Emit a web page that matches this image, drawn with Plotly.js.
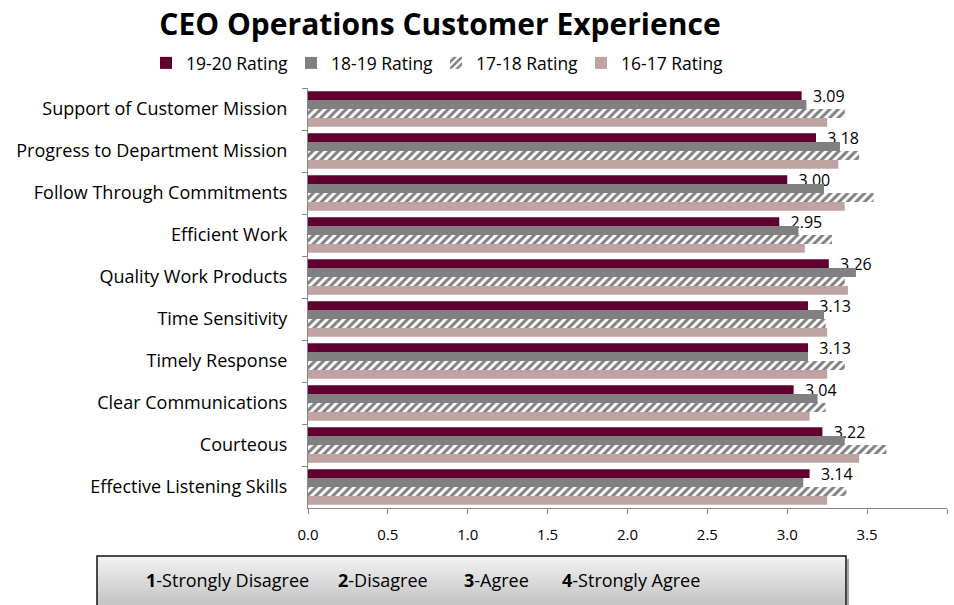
<!DOCTYPE html>
<html>
<head>
<meta charset="utf-8">
<script src="https://cdn.plot.ly/plotly-3.0.1.min.js"></script>
<style>html,body{margin:0;padding:0;background:#fff;}#chart{width:954px;height:605px;}</style>
</head>
<body>
<div id="chart"></div>
<script>
const categories = [
  "Support of Customer Mission",
  "Progress to Department Mission",
  "Follow Through Commitments",
  "Efficient Work",
  "Quality Work Products",
  "Time Sensitivity",
  "Timely Response",
  "Clear Communications",
  "Courteous",
  "Effective Listening Skills"
];
const rating1920 = [3.09, 3.18, 3.00, 2.95, 3.26, 3.13, 3.13, 3.04, 3.22, 3.14];
const rating1819 = [3.12, 3.33, 3.23, 3.07, 3.43, 3.23, 3.13, 3.19, 3.36, 3.10];
const rating1718 = [3.36, 3.45, 3.54, 3.28, 3.36, 3.24, 3.36, 3.24, 3.62, 3.37];
const rating1617 = [3.25, 3.32, 3.36, 3.11, 3.38, 3.25, 3.25, 3.14, 3.45, 3.25];
const seriesNames = ["19-20 Rating", "18-19 Rating", "17-18 Rating", "16-17 Rating"];
const xTickVals = [0, 0.5, 1, 1.5, 2, 2.5, 3, 3.5, 4];
const xTickText = ["0.0", "0.5", "1.0", "1.5", "2.0", "2.5", "3.0", "3.5", ""];
const scaleNumbers = ["1", "2", "3", "4"];
const scaleLabels = ["Strongly Disagree", "Disagree", "Agree", "Strongly Agree"];

const FONT = "Open Sans, Liberation Sans, Arial, sans-serif";

const traces = [
  {type:"bar", orientation:"h", name:seriesNames[0], y:categories, x:rating1920,
   marker:{color:"#600030"},
   text:rating1920.map(v=>"  "+v.toFixed(2)), textposition:"outside", cliponaxis:false, constraintext:"none",
   textfont:{family:FONT, size:16, color:"#000"}},
  {type:"bar", orientation:"h", name:seriesNames[1], y:categories, x:rating1819,
   marker:{color:"#808080"}},
  {type:"bar", orientation:"h", name:seriesNames[2], y:categories, x:rating1718,
   marker:{color:"#ffffff", pattern:{shape:"/", fgcolor:"#7f7f7f", bgcolor:"#ffffff", size:6, solidity:0.5}}},
  {type:"bar", orientation:"h", name:seriesNames[3], y:categories, x:rating1617,
   marker:{color:"#bfa3a3"}}
];

const L=308, R=947, T=88, B=508, W=954, H=605;
const pw = R-L, ph = B-T;
const px = x => (x-L)/pw;
const py = y => (B-y)/ph;

const grad = '<svg xmlns="http://www.w3.org/2000/svg" width="100" height="100" preserveAspectRatio="none"><defs><linearGradient id="g" x1="0" y1="0" x2="0" y2="1"><stop offset="0" stop-color="#f3f3f3"/><stop offset="1" stop-color="#bcbcbc"/></linearGradient></defs><rect width="100" height="100" fill="url(#g)"/></svg>';

const boxX0 = 97, boxX1 = 846, boxY0 = 556, boxY1 = 612;
const scaleXs = [144, 336, 462, 560];

const annotations = scaleNumbers.map((n, i) => ({
  xref:"paper", yref:"paper", x:px(scaleXs[i]), y:py(580), xanchor:"left", yanchor:"middle",
  text:"<b>"+n+"</b>-"+scaleLabels[i], showarrow:false, font:{family:FONT, size:18, color:"#000"}
}));

const layout = {
  width:W, height:H,
  margin:{l:L, r:W-R, t:T, b:H-B, pad:0},
  paper_bgcolor:"#fff", plot_bgcolor:"#fff",
  font:{family:FONT, size:16, color:"#000"},
  title:{text:"<b>CEO Operations Customer Experience</b>", font:{family:FONT, size:30, color:"#000"},
         xref:"container", x:440/W, xanchor:"center", yref:"container", y:1-24/H, yanchor:"middle"},
  barmode:"group", bargap:0.15, bargroupgap:0,
  showlegend:true,
  legend:{orientation:"h", xref:"container", yref:"container", x:146/W, xanchor:"left", y:1-63/H, yanchor:"middle",
          font:{family:FONT, size:17.5, color:"#000"}, traceorder:"normal", itemwidth:30,
          entrywidth:100, entrywidthmode:"pixels"},
  xaxis:{range:[0,4], tickvals:xTickVals, ticktext:xTickText, showgrid:false, zeroline:false,
         showline:true, linecolor:"#868686", linewidth:1, ticks:"outside", ticklen:5, tickcolor:"#868686",
         ticklabelstandoff:8,
         tickfont:{family:FONT, size:15, color:"#000"}, fixedrange:true},
  yaxis:{autorange:"reversed", type:"category", showgrid:false, zeroline:false,
         showline:true, linecolor:"#868686", linewidth:1, ticks:"outside", ticklen:5, tickcolor:"#868686",
         tickson:"boundaries", ticklabelstandoff:16,
         tickfont:{family:FONT, size:18, color:"#000"}, fixedrange:true},
  images:[{source:"data:image/svg+xml;charset=utf-8,"+encodeURIComponent(grad), xref:"paper", yref:"paper",
           x:px(boxX0), y:py(boxY0), sizex:px(boxX1)-px(boxX0), sizey:py(boxY0)-py(boxY1), sizing:"stretch", layer:"below",
           xanchor:"left", yanchor:"top"}],
  shapes:[
    {type:"line", xref:"paper", yref:"paper", x0:px(boxX1+2), x1:px(boxX1+2), y0:py(boxY0+3), y1:py(boxY1),
     line:{color:"rgba(0,0,0,0.35)", width:2}, layer:"above"},
    {type:"rect", xref:"paper", yref:"paper", x0:px(boxX0), x1:px(boxX1), y0:py(boxY1), y1:py(boxY0),
     line:{color:"#111", width:1.5}, fillcolor:"rgba(0,0,0,0)", layer:"above"}
  ],
  annotations:annotations
};

Plotly.newPlot("chart", traces, layout, {displayModeBar:false, staticPlot:true});
</script>
</body>
</html>
